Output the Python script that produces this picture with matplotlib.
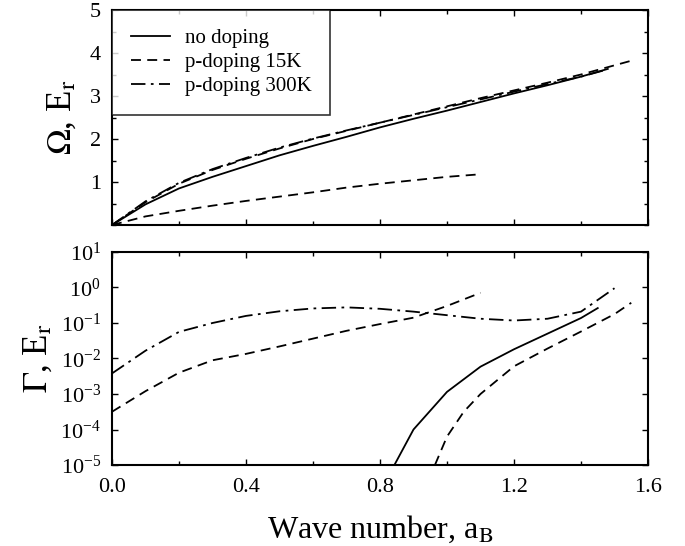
import matplotlib
matplotlib.use("Agg")
import matplotlib.pyplot as plt
from matplotlib.ticker import MultipleLocator, FixedLocator, LogFormatterMathtext, NullFormatter
import numpy as np

plt.rcParams['font.family'] = ['Liberation Serif', 'DejaVu Serif']
plt.rcParams['mathtext.fontset'] = 'stix'

# ---- Top panel: Omega (real part) ----
x_nodop = [0.0, 0.1, 0.2, 0.3, 0.4, 0.5, 0.6, 0.7, 0.8, 0.9, 1.0, 1.1, 1.2, 1.3, 1.4, 1.48]
om_nodop = [0.0, 0.48, 0.85, 1.12, 1.37, 1.62, 1.84, 2.05, 2.27, 2.47, 2.66, 2.86, 3.06, 3.25, 3.45, 3.63]

x_300 = [0.0, 0.1, 0.2, 0.3, 0.4, 0.5, 0.6, 0.7, 0.8, 0.9, 1.0, 1.1, 1.2, 1.3, 1.4, 1.48]
om_300 = [0.0, 0.55, 0.98, 1.30, 1.56, 1.80, 2.01, 2.20, 2.38, 2.56, 2.74, 2.92, 3.10, 3.28, 3.45, 3.62]

x_15a = [0.0, 0.1, 0.2, 0.3, 0.4, 0.5, 0.6, 0.7, 0.8, 0.9, 1.0, 1.1, 1.2, 1.3, 1.4, 1.55]
om_15a = [0.0, 0.53, 0.96, 1.28, 1.54, 1.78, 2.00, 2.19, 2.38, 2.57, 2.76, 2.95, 3.13, 3.31, 3.50, 3.82]

x_15b = [0.0, 0.1, 0.2, 0.3, 0.4, 0.5, 0.6, 0.7, 0.8, 0.9, 1.0, 1.1]
om_15b = [0.0, 0.20, 0.33, 0.45, 0.56, 0.66, 0.76, 0.87, 0.96, 1.04, 1.12, 1.18]

# ---- Bottom panel: Gamma (log10 values) ----
gx_nodop = [0.843, 0.9, 1.0, 1.1, 1.2, 1.3, 1.4, 1.45]
glog_nodop = [-5.0, -4.0, -2.94, -2.23, -1.74, -1.30, -0.86, -0.58]

gx_300 = [0.0, 0.1, 0.2, 0.3, 0.4, 0.5, 0.6, 0.7, 0.8, 0.9, 1.0, 1.1, 1.2, 1.3, 1.4, 1.5]
glog_300 = [-2.42, -1.78, -1.25, -1.0, -0.80, -0.67, -0.59, -0.56, -0.60, -0.68, -0.78, -0.88, -0.93, -0.88, -0.68, -0.02]

gx_15a = [0.0, 0.1, 0.2, 0.3, 0.4, 0.5, 0.6, 0.7, 0.8, 0.9, 1.0, 1.1]
glog_15a = [-3.5, -2.92, -2.40, -2.05, -1.87, -1.66, -1.44, -1.22, -1.03, -0.85, -0.52, -0.15]

gx_15b = [0.964, 1.0, 1.05, 1.1, 1.2, 1.3, 1.4, 1.5, 1.55]
glog_15b = [-5.0, -4.2, -3.5, -3.0, -2.22, -1.72, -1.24, -0.75, -0.43]

xticks = [0.0, 0.4, 0.8, 1.2, 1.6]
xticklabels = ['0.0', '0.4', '0.8', '1.2', '1.6']

fig = plt.figure(figsize=(6.85, 5.46), dpi=100)
L, R = 112/685, 648/685
ax1 = fig.add_axes([L, 1-225/546, R-L, (225-10)/546])
ax2 = fig.add_axes([L, 1-465/546, R-L, (465-252)/546])

lw = 1.3
dash = (0, (5.5, 3.5))
dashdot = (0, (8, 3, 1.5, 3))

ax1.plot(x_nodop, om_nodop, color='k', lw=lw, ls='-', label='no doping')
ax1.plot(x_15a, om_15a, color='k', lw=lw, ls=dash, label='p-doping 15K')
ax1.plot(x_15b, om_15b, color='k', lw=lw, ls=dash)
ax1.plot(x_300, om_300, color='k', lw=lw, ls=dashdot, label='p-doping 300K')

ax2.plot(gx_nodop, 10**np.array(glog_nodop), color='k', lw=lw, ls='-')
ax2.plot(gx_15a, 10**np.array(glog_15a), color='k', lw=lw, ls=dash)
ax2.plot(gx_15b, 10**np.array(glog_15b), color='k', lw=lw, ls=dash)
ax2.plot(gx_300, 10**np.array(glog_300), color='k', lw=lw, ls=dashdot)

for ax in (ax1, ax2):
    ax.set_xlim(0, 1.6)
    ax.xaxis.set_major_locator(FixedLocator(xticks))
    ax.xaxis.set_minor_locator(MultipleLocator(0.2))
    ax.tick_params(which='both', direction='in', top=True, right=True, width=1.0)
    ax.tick_params(which='major', length=4, labelsize=16)
    ax.tick_params(which='minor', length=3)
    ax.tick_params(axis='x', pad=9)
    ax.tick_params(axis='y', pad=8)
    for s in ax.spines.values():
        s.set_linewidth(1.5)

ax1.set_ylim(0, 5)
ax1.yaxis.set_major_locator(FixedLocator([1, 2, 3, 4, 5]))
ax1.yaxis.set_minor_locator(MultipleLocator(0.5))
ax1.set_xticklabels([])
ax1.set_ylabel(r'$\Omega$, E$_\mathrm{r}$', fontsize=25, labelpad=8)

leg = ax1.legend(loc='upper left', fontsize=15, frameon=True, fancybox=False,
                 edgecolor='k', handlelength=1.9, borderaxespad=0.0,
                 borderpad=0.9, labelspacing=0.2, handletextpad=0.7)
leg.get_frame().set_linewidth(1.2)

ax2.set_yscale('log')
ax2.set_ylim(1e-5, 1e1)
ax2.yaxis.set_major_locator(FixedLocator([1e-5, 1e-4, 1e-3, 1e-2, 1e-1, 1e0, 1e1]))
ax2.yaxis.set_major_formatter(LogFormatterMathtext())
ax2.yaxis.set_minor_formatter(NullFormatter())
ax2.yaxis.set_minor_locator(FixedLocator([]))
ax2.set_xticklabels(xticklabels)
ax2.set_ylabel(r'$\Gamma$, E$_\mathrm{r}$', fontsize=25, labelpad=4)
ax2.set_xlabel(r'Wave number, a$_\mathrm{B}$', fontsize=23, labelpad=12)

fig.savefig('out.png', dpi=100)
